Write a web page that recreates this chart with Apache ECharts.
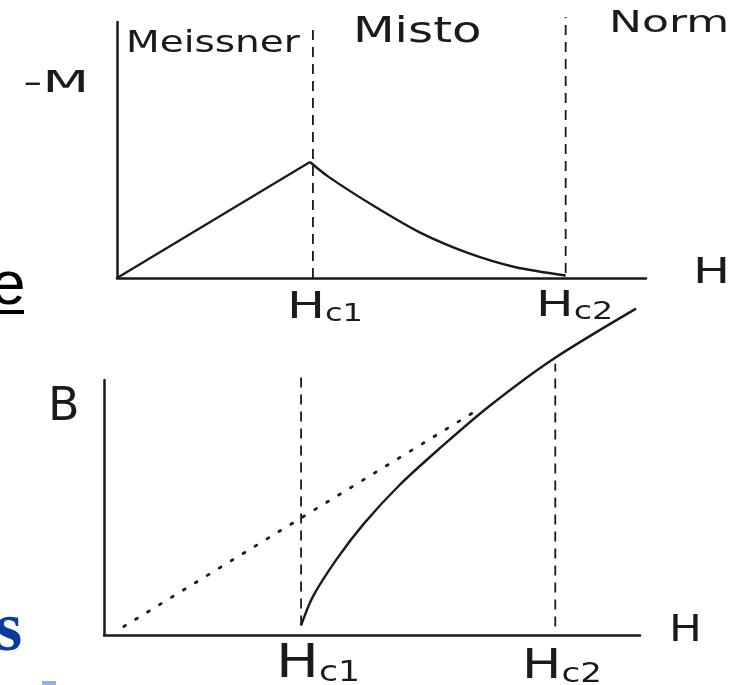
<!DOCTYPE html>
<html>
<head>
<meta charset="utf-8">
<title>Meissner - Misto - Normale</title>
<script src="https://cdn.jsdelivr.net/npm/echarts@6/dist/echarts.min.js"></script>
<style>
  html, body { margin: 0; padding: 0; background: #fff; }
  #chart { width: 734px; height: 685px; }
</style>
</head>
<body>
<div id="chart"></div>
<script>
// critical fields, in units of Hc1
var hc1 = 1;
var hc2 = 2.29;

// -M(H), top panel
var meissnerH = [0, 0.985];
var meissnerM = [0, 0.453];
var mixedH = [0.985, 1.08, 1.32, 1.55, 1.79, 2.03, 2.29];
var mixedM = [0.453, 0.395, 0.277, 0.176, 0.098, 0.043, 0.01];

// B(H), bottom panel
var curveH = [1.0, 1.06, 1.18, 1.32, 1.5, 1.7, 1.95, 2.28, 2.7];
var curveB = [0.08, 0.32, 0.63, 0.93, 1.25, 1.55, 1.9, 2.3, 2.72];
var normalH = [0.1, 1.9];
var normalB = [0.07, 1.88];

var ink = "#1a1a1a";
var hand = "DejaVu Sans";

function pairs(xs, ys) {
  return xs.map(function (x, i) { return [x, ys[i]]; });
}

function axis(idx, max) {
  return {
    gridIndex: idx, type: "value", min: 0, max: max,
    axisLine: { show: true, onZero: false, lineStyle: { color: ink, width: 2.5 } },
    axisTick: { show: false }, axisLabel: { show: false }, splitLine: { show: false }
  };
}

function dashed(idx, x, y0, y1) {
  return {
    type: "line", xAxisIndex: idx, yAxisIndex: idx, data: [[x, y0], [x, y1]],
    symbol: "none", clip: false, silent: true,
    lineStyle: { color: ink, width: 1.8, type: [10, 7] }
  };
}

// hand lettering, stretched sideways to match the drawing
function label(text, x, y, size, sx, rich) {
  return {
    type: "text", x: x, y: y, scaleX: sx,
    style: {
      text: text, font: size + "px '" + hand + "'", fill: ink,
      align: "left", verticalAlign: "middle", rich: rich
    }
  };
}
function hLabel(x, y, big, small, sx, sub) {
  return label("{h|H}{s|" + sub + "}", x, y, big, sx, {
    h: { fontSize: big, fontFamily: hand, fill: ink },
    s: { fontSize: small, fontFamily: hand, fill: ink, verticalAlign: "bottom" }
  });
}

var chart = echarts.init(document.getElementById("chart"));
chart.setOption({
  animation: false,
  backgroundColor: "#fff",
  grid: [
    { left: 117, top: 22, width: 529, height: 256 },
    { left: 104, top: 380, width: 536, height: 255 }
  ],
  xAxis: [axis(0, 2.7), axis(1, 2.72)],
  yAxis: [axis(0, 1), axis(1, 2.125)],
  series: [
    dashed(0, hc1, 0, 0.99),
    dashed(0, hc2, 0.02, 1.02),
    {
      type: "line", xAxisIndex: 0, yAxisIndex: 0, symbol: "none",
      data: pairs(meissnerH, meissnerM),
      lineStyle: { color: ink, width: 2.2 }
    },
    {
      type: "line", xAxisIndex: 0, yAxisIndex: 0, symbol: "none", smooth: 0.3,
      data: pairs(mixedH, mixedM),
      lineStyle: { color: ink, width: 2.4 }
    },
    dashed(1, hc1, 0.08, 2.17),
    dashed(1, hc2, 0.07, 2.26),
    {
      type: "line", xAxisIndex: 1, yAxisIndex: 1, symbol: "none",
      data: pairs(normalH, normalB),
      lineStyle: { color: ink, width: 2.8, type: [2, 12], cap: "round" }
    },
    {
      type: "line", xAxisIndex: 1, yAxisIndex: 1, symbol: "none", smooth: 0.3, clip: false,
      data: pairs(curveH, curveB),
      lineStyle: { color: ink, width: 2.4 }
    }
  ],
  graphic: [
    label("Meissner", 126, 44, 30, 1.3),
    label("Misto", 353, 33, 36, 1.34),
    label("Norm", 609, 24, 30, 1.47),
    label("-M", 23, 84, 30, 1.8),
    label("H", 693, 274, 36, 1.37),
    hLabel(287, 308, 38, 24, 1.33, "c1"),
    hLabel(536, 307, 36, 24, 1.39, "c2"),
    label("B", 48, 408, 46, 1),
    label("H", 669, 631, 38, 1.15),
    hLabel(276, 665, 46, 28, 1.24, "c1"),
    hLabel(522, 668, 40, 26, 1.31, "c2"),
    {
      type: "text", x: -9, y: 318,
      style: { text: "e", font: "62px 'Liberation Sans'", fill: "#000", verticalAlign: "bottom" }
    },
    { type: "rect", shape: { x: 0, y: 310, width: 24, height: 4 }, style: { fill: "#000" } },
    {
      type: "text", x: -5, y: 667,
      style: { text: "s", font: "bold 70px 'Liberation Serif'", fill: "#0b3b9f", verticalAlign: "bottom" }
    },
    { type: "rect", shape: { x: 42, y: 681, width: 14, height: 4 }, style: { fill: "#8fb0e8" } }
  ]
});
</script>
</body>
</html>
